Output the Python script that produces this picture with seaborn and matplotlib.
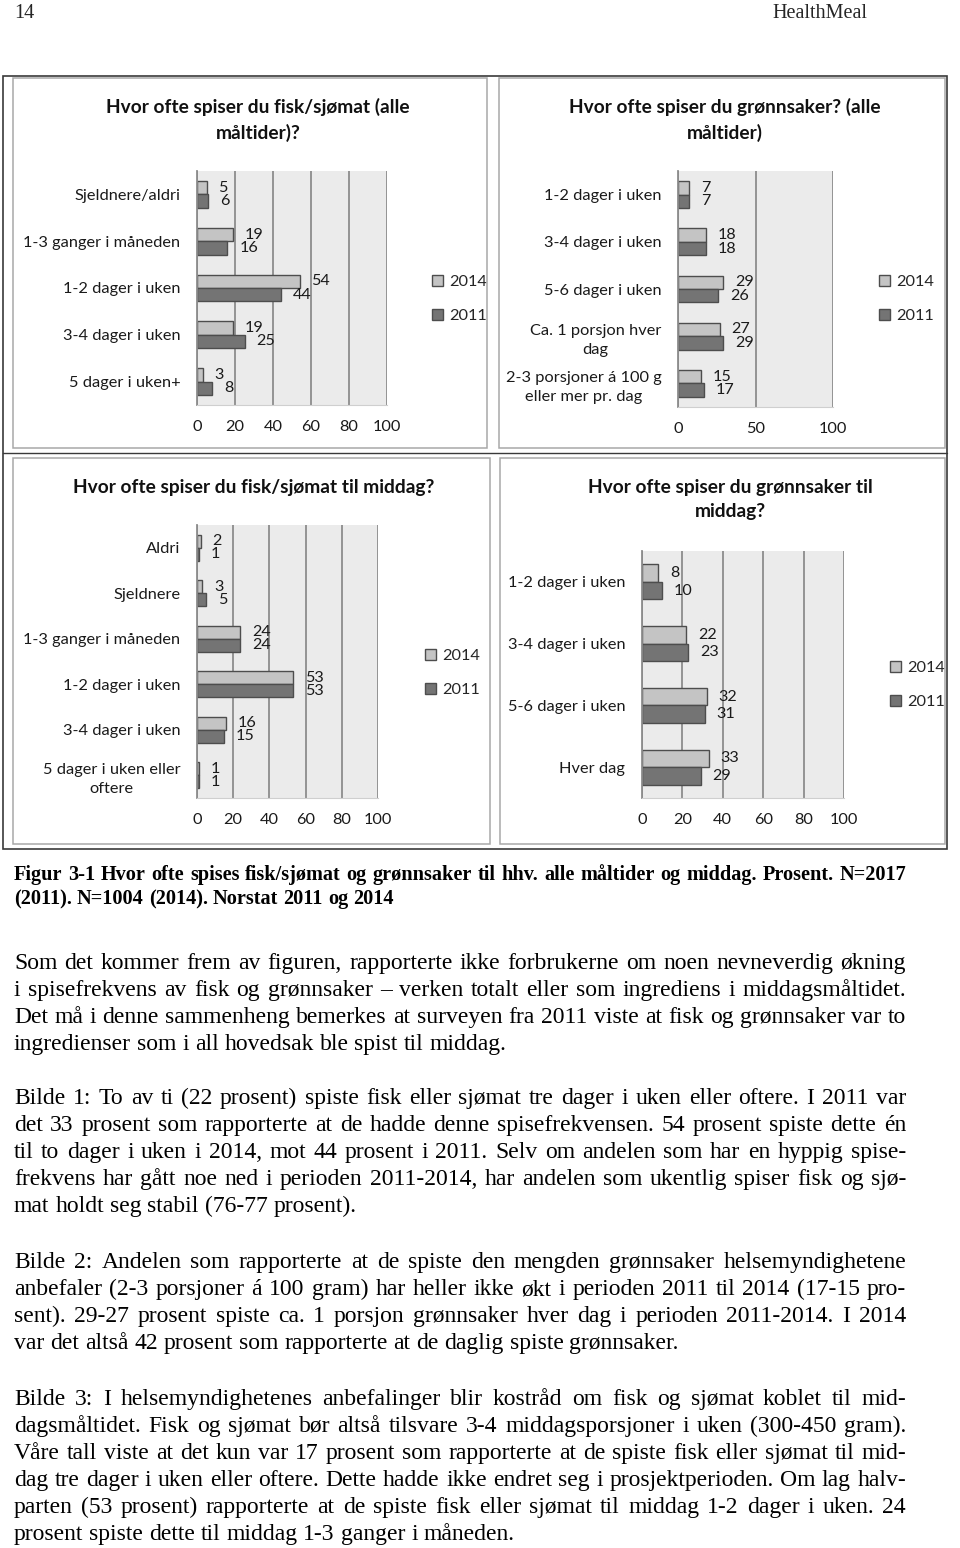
import matplotlib
matplotlib.use("Agg")
import matplotlib.pyplot as plt
import seaborn as sns
import pandas as pd
from matplotlib.patches import Rectangle
from matplotlib.lines import Line2D

# ---------------- data ----------------
years = ["2014", "2011"]

fish_all_cats = ["Sjeldnere/aldri", "1-3 ganger i måneden", "1-2 dager i uken",
                 "3-4 dager i uken", "5 dager i uken+"]
fish_all_2014 = [5, 19, 54, 19, 3]
fish_all_2011 = [6, 16, 44, 25, 8]

veg_all_cats = ["1-2 dager i uken", "3-4 dager i uken", "5-6 dager i uken",
                "Ca. 1 porsjon hver\ndag", "2-3 porsjoner á 100 g\neller mer pr. dag"]
veg_all_2014 = [7, 18, 29, 27, 15]
veg_all_2011 = [7, 18, 26, 29, 17]

fish_din_cats = ["Aldri", "Sjeldnere", "1-3 ganger i måneden", "1-2 dager i uken",
                 "3-4 dager i uken", "5 dager i uken eller\noftere"]
fish_din_2014 = [2, 3, 24, 53, 16, 1]
fish_din_2011 = [1, 5, 24, 53, 15, 1]

veg_din_cats = ["1-2 dager i uken", "3-4 dager i uken", "5-6 dager i uken", "Hver dag"]
veg_din_2014 = [8, 22, 32, 33]
veg_din_2011 = [10, 23, 31, 29]

ticks_20 = [0, 20, 40, 60, 80, 100]
ticks_50 = [0, 50, 100]

titles = ["Hvor ofte spiser du fisk/sjømat (alle\nmåltider)?",
          "Hvor ofte spiser du grønnsaker? (alle\nmåltider)",
          "Hvor ofte spiser du fisk/sjømat til middag?",
          "Hvor ofte spiser du grønnsaker til\nmiddag?"]

header_left = "14"
header_right = "HealthMeal"

caption_lines = [
    "Figur 3-1 Hvor ofte spises fisk/sjømat og grønnsaker til hhv. alle måltider og middag. Prosent. N=2017",
    "(2011). N=1004 (2014). Norstat 2011 og 2014",
]

paragraphs = [
    ["Som det kommer frem av figuren, rapporterte ikke forbrukerne om noen nevneverdig økning",
     "i spisefrekvens av fisk og grønnsaker – verken totalt eller som ingrediens i middagsmåltidet.",
     "Det må i denne sammenheng bemerkes at surveyen fra 2011 viste at fisk og grønnsaker var to",
     "ingredienser som i all hovedsak ble spist til middag."],
    ["Bilde 1: To av ti (22 prosent) spiste fisk eller sjømat tre dager i uken eller oftere. I 2011 var",
     "det 33 prosent som rapporterte at de hadde denne spisefrekvensen. 54 prosent spiste dette én",
     "til to dager i uken i 2014, mot 44 prosent i 2011. Selv om andelen som har en hyppig spise-",
     "frekvens har gått noe ned i perioden 2011-2014, har andelen som ukentlig spiser fisk og sjø-",
     "mat holdt seg stabil (76-77 prosent)."],
    ["Bilde 2: Andelen som rapporterte at de spiste den mengden grønnsaker helsemyndighetene",
     "anbefaler (2-3 porsjoner á 100 gram) har heller ikke \u00f8kt i perioden 2011 til 2014 (17-15 pro-",
     "sent). 29-27 prosent spiste ca. 1 porsjon grønnsaker hver dag i perioden 2011-2014. I 2014",
     "var det altså 42 prosent som rapporterte at de daglig spiste grønnsaker."],
    ["Bilde 3: I helsemyndighetenes anbefalinger blir kostråd om fisk og sjømat koblet til mid-",
     "dagsmåltidet. Fisk og sjømat bør altså tilsvare 3-4 middagsporsjoner i uken (300-450 gram).",
     "Våre tall viste at det kun var 17 prosent som rapporterte at de spiste fisk eller sjømat til mid-",
     "dag tre dager i uken eller oftere. Dette hadde ikke endret seg i prosjektperioden. Om lag halv-",
     "parten (53 prosent) rapporterte at de spiste fisk eller sjømat til middag 1-2 dager i uken. 24",
     "prosent spiste dette til middag 1-3 ganger i måneden."],
]

# ---------------- setup ----------------
sns.set_style("white")
CHART_FONT = ["Lato", "DejaVu Sans"]
SERIF = ["Liberation Serif", "DejaVu Serif"]
plt.rcParams["font.family"] = CHART_FONT

W, H = 960, 1548
fig = plt.figure(figsize=(W / 100, H / 100), dpi=100)
fig.patch.set_facecolor("white")
renderer = fig.canvas.get_renderer()


def fx(x):
    return x / W


def fy(y):
    return 1 - y / H


C2014 = "#c4c4c4"
C2011 = "#747474"
EDGE = "#4d4d4d"
FS = 11.8
LFS = 11.6


def draw_chart(box, cats, v14, v11, ticks, legend_xy):
    l, r, t, b = box
    ax = fig.add_axes([fx(l), fy(b), (r - l) / W, (b - t) / H])
    n = len(cats)
    df = pd.DataFrame({"cat": cats * 2,
                       "year": [years[0]] * n + [years[1]] * n,
                       "val": v14 + v11})
    sns.barplot(data=df, y="cat", x="val", hue="year", hue_order=years,
                palette={years[0]: C2014, years[1]: C2011}, orient="h",
                width=0.57, edgecolor=EDGE, linewidth=1.0, ax=ax, legend=True)
    for c in ax.containers:
        ax.bar_label(c, padding=8.5, fontsize=LFS, color="#1a1a1a")
    ax.set_xlim(0, 100)
    ax.set_xticks(ticks)
    ax.set_xticklabels([str(v) for v in ticks])
    ax.set_facecolor("#ebebeb")
    ax.grid(axis="x", color="#8c8c8c", lw=1.3)
    ax.grid(axis="y", visible=False)
    ax.set_axisbelow(True)
    for s in ["top", "right"]:
        ax.spines[s].set_visible(False)
    ax.spines["bottom"].set_color("#cfcfcf")
    ax.spines["left"].set_color("#8c8c8c")
    ax.spines["left"].set_linewidth(1.3)
    ax.tick_params(axis="y", length=0, pad=12, labelsize=FS, labelcolor="#1a1a1a")
    ax.tick_params(axis="x", length=0, pad=11, labelsize=FS, labelcolor="#1a1a1a")
    for lab in ax.get_yticklabels():
        lab.set_multialignment("center")
        lab.set_linespacing(1.5)
    ax.set_xlabel("")
    ax.set_ylabel("")
    handles, labels = ax.get_legend_handles_labels()
    ax.legend(handles, labels, loc="center left",
              bbox_to_anchor=(fx(legend_xy[0]), fy(legend_xy[1])),
              bbox_transform=fig.transFigure, frameon=False,
              handlelength=0.7, handleheight=0.7, handletextpad=0.35,
              labelspacing=1.2, fontsize=FS, borderpad=0, borderaxespad=0)
    return ax


draw_chart((197, 387, 171, 405), fish_all_cats, fish_all_2014, fish_all_2011, ticks_20, (432, 299))
draw_chart((678, 833, 171, 407), veg_all_cats, veg_all_2014, veg_all_2011, ticks_50, (879, 299))
draw_chart((197, 378, 525, 798), fish_din_cats, fish_din_2014, fish_din_2011, ticks_20, (425, 673))
draw_chart((642, 844, 551, 798), veg_din_cats, veg_din_2014, veg_din_2011, ticks_20, (890, 685))

# titles
title_pos = [(258, 120), (725, 120), (254, 487), (730, 500)]
for ttl, (x, y) in zip(titles, title_pos):
    fig.text(fx(x), fy(y), ttl, ha="center", va="center", fontsize=13.8,
             fontweight="bold", color="#111111", linespacing=1.5, multialignment="center")

# panel frames
def rect(x0, y0, x1, y1, color, lw):
    fig.add_artist(Rectangle((fx(x0), fy(y1)), (x1 - x0) / W, (y1 - y0) / H,
                             transform=fig.transFigure, fill=False, ec=color, lw=lw))


def hline(x0, x1, y, color, lw):
    fig.add_artist(Line2D([fx(x0), fx(x1)], [fy(y), fy(y)], transform=fig.transFigure,
                          color=color, lw=lw))


rect(3, 76, 947, 849, "#3a3a3a", 1.2)
hline(3, 947, 453, "#3a3a3a", 1.0)
for (x0, y0, x1, y1) in [(13, 78, 487, 448), (499, 78, 945, 448),
                         (13, 458, 490, 844), (500, 458, 945, 844)]:
    rect(x0, y0, x1, y1, "#a8a8a8", 1.1)

# ---------------- text ----------------
def text_width(s, size, weight):
    t = fig.text(0, 0, s, fontsize=size, family=SERIF, fontweight=weight)
    w = t.get_window_extent(renderer).width
    t.remove()
    return w


def draw_line(line, x0, x1, base, size, weight, justify):
    words = line.split(" ")
    widths = [text_width(w, size, weight) for w in words]
    if justify and len(words) > 1:
        gap = (x1 - x0 - sum(widths)) / (len(words) - 1)
    else:
        gap = text_width("a a", size, weight) - text_width("aa", size, weight)
    x = x0
    for w, wd in zip(words, widths):
        fig.text(fx(x), fy(base), w, fontsize=size, family=SERIF, fontweight=weight,
                 ha="left", va="baseline", color="#000000")
        x += wd + gap


X0, X1 = 14, 906

# header
fig.text(fx(14), fy(18), header_left, fontsize=14.5, family=SERIF, ha="left", va="baseline")
fig.text(fx(867), fy(18), header_right, fontsize=14.5, family=SERIF, ha="right", va="baseline")

# caption
cap_nat = text_width(caption_lines[0], 10, "bold")
cap_size = min(15.0, 10 * (X1 - X0) * 0.99 / cap_nat)
draw_line(caption_lines[0], X0, X1, 880, cap_size, "bold", True)
draw_line(caption_lines[1], X0, X1, 904, cap_size, "bold", False)

# body
just_lines = [l for p in paragraphs for l in p[:-1]]
body_nat = max(text_width(l, 10, "normal") for l in just_lines)
body_size = min(17.0, 10 * (X1 - X0) * 0.995 / body_nat)
starts = [969, 1104, 1268, 1405]
for para, y0 in zip(paragraphs, starts):
    for i, line in enumerate(para):
        draw_line(line, X0, X1, y0 + 27 * i, body_size, "normal", i < len(para) - 1)

fig.savefig("out.png", dpi=100, facecolor="white")
